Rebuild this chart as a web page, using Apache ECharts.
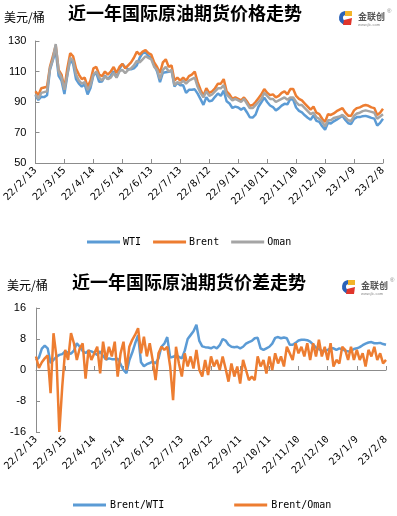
<!DOCTYPE html>
<html>
<head>
<meta charset="utf-8">
<script src="https://cdn.jsdelivr.net/npm/echarts@6/dist/echarts.min.js"></script>
<style>
  html, body { margin: 0; padding: 0; background: #fff; }
  #main { width: 397px; height: 516px; }
</style>
</head>
<body>
<div id="main"></div>
<script>
// x tick labels, one every 30 days
var tickLabels = ['22/2/13', '22/3/15', '22/4/14', '22/5/14', '22/6/13', '22/7/13', '22/8/12',
    '22/9/11', '22/10/11', '22/11/10', '22/12/10', '23/1/9', '23/2/8'];

// prices, one reading every 3 days
var wti = [94.5, 91.3, 93.5, 93.2, 94.4, 111, 117.4, 123.6, 107.1, 104, 95.2, 107.5, 117.8, 115, 105.1, 102,
    100.1, 101.6, 95, 99.2, 107.6, 109.1, 103.2, 103.4, 107.3, 105, 107.2, 110.2, 106.1, 111.5, 115, 112.8,
    111.5, 111.5, 112.1, 114, 119, 122, 122.5, 120.2, 118.8, 114.3, 110, 103, 109.2, 109.5, 109.8, 110.6,
    100.2, 102.6, 101, 101, 96, 98, 98, 98.3, 95.5, 91.9, 88.1, 93.2, 90.4, 91, 93.4, 95.6, 94, 97.4,
    90.5, 89, 86.1, 87, 86.4, 85, 86.2, 83.3, 80, 79.8, 81.7, 86.9, 89.8, 92.9, 90, 87.7, 86.7, 84.5,
    85.8, 87.6, 88.8, 88.5, 92, 91.5, 86.4, 84.2, 83.2, 81.3, 79.7, 78.4, 81.2, 77.6, 77, 74.1, 71.8,
    76.4, 75.9, 77.3, 78.4, 79.7, 81, 78.2, 76.1, 75.6, 78.9, 80.1, 80.1, 80.7, 80.9, 80.3, 79.6, 79.1,
    74.5, 76.3, 79];
var brent = [97, 94.5, 99, 99.5, 100, 113, 120, 127, 111, 108, 99, 112, 122, 120, 112, 108,
    105, 106, 100, 104, 112, 113, 108, 107, 110, 108, 110, 113, 109, 113, 115, 112,
    114, 116, 119, 123, 121, 123, 124, 122, 121, 116, 113, 109, 116, 118, 113, 114,
    104, 106, 104, 106, 104, 107, 108, 110, 103, 98, 94, 99, 96, 97, 99, 102, 102, 105,
    97, 95, 92, 93, 92, 91, 93, 90.5, 87.5, 88, 90, 92.5, 95, 98.5, 96, 94.5, 95, 93,
    94, 96, 97, 95, 98.5, 98.5, 94, 92, 91, 89, 87, 85, 87, 83, 82, 79, 77,
    82, 81.5, 82.5, 84, 85, 86, 83, 81, 81, 84.5, 86, 86.5, 87.5, 88, 87.5, 86.5, 86,
    81.5, 83, 85.5];
var oman = [95, 92, 96, 96.5, 97, 112, 118, 128, 110, 106, 98, 108, 119, 117, 108, 104,
    102, 103, 98, 101, 108, 110, 106, 104, 107, 105, 106, 109, 106, 110, 111, 109,
    111, 112, 114, 117, 116, 118, 120, 119, 118, 113, 111, 105, 111, 113, 110, 111,
    101, 103, 102, 104, 102, 104, 105, 106, 100, 96, 93, 97, 94, 95, 97, 99, 99, 101,
    95, 93, 91, 92, 91, 90, 92, 89, 86, 86, 88, 90, 92, 96, 94, 92, 92, 90,
    91, 92, 93, 91.5, 93, 93, 90, 88, 88, 86, 84, 82, 83, 80, 79, 77, 74,
    78, 78, 79.5, 80, 80.5, 81.5, 80, 78, 77.5, 81, 82.5, 83, 84, 84.5, 84, 83.5, 83,
    79, 80.5, 82];

// spreads, same 3-day readings
var brentWti = [2.5, 3.2, 5.5, 6.3, 5.6, 1.8, 2.6, 3.4, 3.9, 4.1, 4.8, 4.5, 4.2, 5.0, 6.9, 6.0,
    4.9, 4.4, 5.0, 4.8, 4.4, 3.9, 4.8, 3.6, 2.7, 3.0, 2.8, 2.8, 2.9, 1.5, 0.0, -0.8,
    2.5, 4.5, 6.9, 9.0, 2.0, 1.0, 1.5, 1.8, 2.2, 1.7, 3.0, 6.0, 6.8, 8.5, 3.2, 3.4,
    3.8, 3.4, 3.0, 5.0, 8.0, 9.0, 10.0, 11.7, 7.5, 6.1, 5.9, 5.8, 5.6, 6.0, 5.6, 6.4,
    8.0, 7.6, 6.5, 6.0, 5.9, 6.0, 5.6, 6.0, 6.8, 7.2, 7.5, 8.2, 8.3, 5.6, 5.2, 5.6,
    6.0, 6.8, 8.3, 8.5, 8.2, 8.4, 8.2, 6.5, 6.5, 7.0, 7.6, 7.8, 7.8, 7.7, 7.3, 6.6,
    5.8, 5.4, 5.0, 4.9, 5.2, 5.6, 5.6, 5.2, 5.6, 5.3, 5.0, 4.8, 4.9, 5.4, 5.6, 5.9,
    6.4, 6.8, 7.1, 7.2, 6.9, 6.9, 7.0, 6.7, 6.5];
var brentOman = [3.5, 0.5, 2.0, 3.0, 3.8, -6.0, 9.5, 3.5, -16, -4.3, 5.2, 2.6, 9.5, 6.9, 2.6, 5.6,
    6.9, -2.2, 5.2, 2.6, 4.3, 6.0, -0.9, 7.3, 2.6, 6.0, 3.5, 7.3, -1.7, 4.3, 7.3, 0.0,
    6.0, 7.8, 9.1, 10.8, 4.3, 8.6, 3.5, 6.9, 2.6, -2.6, 4.3, 6.0, 5.2, 6.0, 0.9, -7.8,
    6.0, 1.7, -1.7, 4.3, 0.9, 3.5, 0.4, 5.2, 0.0, -1.7, 2.6, -1.3, 3.5, 0.9, 2.6, 0.0,
    3.5, 0.4, -3.0, 1.7, -1.7, 0.9, -3.5, 2.6, 0.0, -2.6, -1.7, -2.6, 3.5, 0.9, 2.6, -0.9,
    3.5, 0.0, 4.3, 1.7, 3.5, 0.9, 6.0, 4.3, 2.6, 6.9, 4.3, 6.0, 3.5, 6.9, 2.6, 6.9,
    3.5, 7.8, 3.5, 6.0, 2.6, 6.9, 0.9, 2.6, 1.7, 6.0, 5.2, 2.6, 6.0, 2.6, 5.2, 2.6,
    4.3, 0.9, 5.2, 3.5, 6.0, 2.6, 4.3, 1.7, 2.6];

var stepDays = 3;

function pairs(values) {
    var out = [];
    for (var i = 0; i < values.length; i++) {
        out.push([i * stepDays, values[i]]);
    }
    return out;
}

function makeLogo(x, y) {
    return {
        type: 'group',
        left: x,
        top: y,
        children: [
            { type: 'sector', shape: { cx: 7, cy: 7, r: 7, r0: 3, startAngle: Math.PI * 0.55, endAngle: Math.PI * 1.45 }, style: { fill: '#2a62b8' } },
            { type: 'rect', shape: { x: 6, y: 0, width: 7, height: 5 }, style: { fill: '#f2b428' } },
            { type: 'polygon', shape: { points: [[5, 9], [13, 7], [12, 14], [4, 14]] }, style: { fill: '#e0352b' } },
            { type: 'text', x: 19, y: 1, style: { text: '金联创', font: 'bold 9px "Noto Sans CJK SC"', fill: '#555' } },
            { type: 'text', x: 19, y: 12, style: { text: 'www.jlc.com', font: '4px sans-serif', fill: '#888' } },
            { type: 'text', x: 48, y: -3, style: { text: '®', font: '6px sans-serif', fill: '#888' } }
        ]
    };
}

var chart = echarts.init(document.getElementById('main'));

var axisLineStyle = { color: '#8c8c8c', width: 1 };
var numFont = { color: '#000', fontSize: 11, fontFamily: 'Liberation Sans' };
var dateFont = { color: '#000', fontSize: 10, fontFamily: 'DejaVu Sans Mono', rotate: 45, margin: 6 };

function dateAxis(gridIndex) {
    return {
        type: 'value',
        gridIndex: gridIndex,
        min: 0,
        max: 360,
        interval: 30,
        axisLine: { lineStyle: axisLineStyle },
        axisTick: { inside: true, length: 4, lineStyle: axisLineStyle },
        splitLine: { show: false },
        axisLabel: Object.assign({
            showMinLabel: true,
            showMaxLabel: true,
            formatter: function (v) { return tickLabels[Math.round(v / 30)]; }
        }, dateFont)
    };
}

var option = {
    animation: false,
    backgroundColor: '#fff',
    graphic: [
        { type: 'text', left: 185 - 117, top: 4, style: { text: '近一年国际原油期货价格走势', font: 'bold 18px "Noto Sans CJK SC"', fill: '#000' } },
        { type: 'text', left: 4, top: 11, style: { text: '美元/桶', font: '12px "Noto Sans CJK SC"', fill: '#000' } },
        makeLogo(339, 8),
        { type: 'text', left: 72, top: 273, style: { text: '近一年国际原油期货价差走势', font: 'bold 18px "Noto Sans CJK SC"', fill: '#000' } },
        { type: 'text', left: 7, top: 279, style: { text: '美元/桶', font: '12px "Noto Sans CJK SC"', fill: '#000' } },
        makeLogo(342, 277)
    ],
    legend: [
        {
            data: ['WTI', 'Brent', 'Oman'],
            left: 82,
            top: 232,
            icon: 'rect',
            itemWidth: 33,
            itemHeight: 3,
            itemGap: 12,
            textStyle: { fontSize: 10, fontFamily: 'DejaVu Sans Mono', color: '#000', padding: [0, 0, 0, -2] }
        },
        {
            data: ['Brent/WTI', 'Brent/Oman'],
            left: 68,
            top: 495,
            icon: 'rect',
            itemWidth: 33,
            itemHeight: 3,
            itemGap: 70,
            textStyle: { fontSize: 10, fontFamily: 'DejaVu Sans Mono', color: '#000', padding: [0, 0, 0, -1] }
        }
    ],
    grid: [
        { left: 34, right: 14, top: 41, height: 122 },
        { left: 36, right: 11, top: 308, height: 124 }
    ],
    xAxis: [dateAxis(0), dateAxis(1)],
    yAxis: [
        {
            type: 'value',
            gridIndex: 0,
            min: 50,
            max: 130,
            interval: 20,
            axisLine: { show: true, lineStyle: axisLineStyle },
            axisTick: { show: true, inside: true, length: 4, lineStyle: axisLineStyle },
            splitLine: { show: false },
            axisLabel: Object.assign({ margin: 9 }, numFont)
        },
        {
            type: 'value',
            gridIndex: 1,
            min: -16,
            max: 16,
            interval: 8,
            axisLine: { show: true, onZero: false, lineStyle: axisLineStyle },
            axisTick: { show: true, inside: true, length: 4, lineStyle: axisLineStyle },
            splitLine: { show: false },
            axisLabel: Object.assign({ margin: 10 }, numFont)
        }
    ],
    series: [
        { name: 'WTI', type: 'line', xAxisIndex: 0, yAxisIndex: 0, data: pairs(wti), showSymbol: false, color: '#5b9bd5', lineStyle: { width: 2.5 } },
        { name: 'Brent', type: 'line', xAxisIndex: 0, yAxisIndex: 0, data: pairs(brent), showSymbol: false, color: '#ed7d31', lineStyle: { width: 2.5 } },
        { name: 'Oman', type: 'line', xAxisIndex: 0, yAxisIndex: 0, data: pairs(oman), showSymbol: false, color: '#a5a5a5', lineStyle: { width: 2.5 } },
        { name: 'Brent/WTI', type: 'line', xAxisIndex: 1, yAxisIndex: 1, data: pairs(brentWti), showSymbol: false, color: '#5b9bd5', lineStyle: { width: 2.5 } },
        { name: 'Brent/Oman', type: 'line', xAxisIndex: 1, yAxisIndex: 1, data: pairs(brentOman), showSymbol: false, color: '#ed7d31', lineStyle: { width: 2.5 } }
    ]
};

chart.setOption(option);
</script>
</body>
</html>
